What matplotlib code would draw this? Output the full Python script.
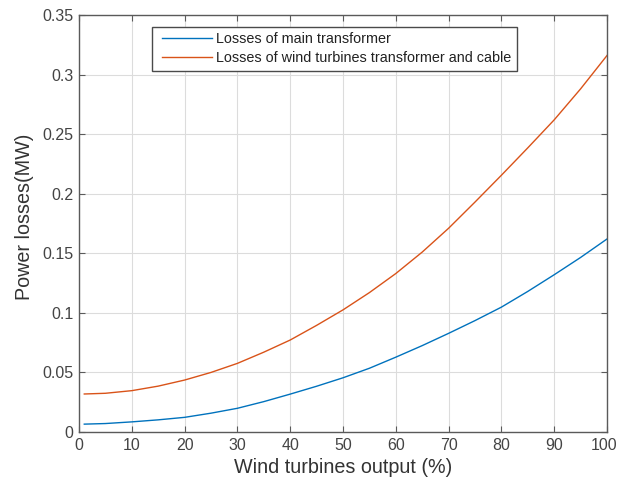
import matplotlib
matplotlib.use("Agg")
import matplotlib.pyplot as plt
import matplotlib.transforms as mt
from matplotlib.lines import Line2D
from matplotlib.legend_handler import HandlerLine2D

plt.rcParams['font.family'] = ['Liberation Sans', 'DejaVu Sans']

output_pct = [1, 5, 10, 15, 20, 25, 30, 35, 40, 45, 50, 55, 60, 65, 70, 75, 80, 85, 90, 95, 100]
main_tr = [0.0066, 0.0071, 0.0085, 0.0102, 0.0123, 0.0158, 0.0199, 0.0255, 0.0318, 0.0384, 0.0455,
           0.0535, 0.0628, 0.0725, 0.0828, 0.0935, 0.1048, 0.1180, 0.1320, 0.1465, 0.1620]
wt_tr_cable = [0.0319, 0.0325, 0.0347, 0.0385, 0.0436, 0.0500, 0.0576, 0.0670, 0.0772, 0.0895, 0.1025,
               0.1170, 0.1330, 0.1510, 0.1710, 0.1930, 0.2155, 0.2385, 0.2620, 0.2880, 0.3160]
labels = ["Losses of main transformer", "Losses of wind turbines transformer and cable"]
xticks = [0, 10, 20, 30, 40, 50, 60, 70, 80, 90, 100]
yticks = [0, 0.05, 0.1, 0.15, 0.2, 0.25, 0.3, 0.35]
yticklabels = ["0", "0.05", "0.1", "0.15", "0.2", "0.25", "0.3", "0.35"]

fig = plt.figure(figsize=(6.18, 4.84), dpi=100)
ax = fig.add_axes([79/618, 52/484, 528/618, 417/484])

ax.plot(output_pct, main_tr, color=(0, 0.447, 0.741), lw=1.0, label=labels[0])
ax.plot(output_pct, wt_tr_cable, color=(0.85, 0.325, 0.098), lw=1.0, label=labels[1])

ax.set_xlim(0, 100)
ax.set_ylim(0, 0.35)
ax.set_xticks(xticks)
ax.set_xticklabels([str(v) for v in xticks])
ax.set_yticks(yticks)
ax.set_yticklabels(yticklabels)

ax.grid(True, color='#dcdcdc', lw=0.8)
ax.set_axisbelow(True)
for s in ax.spines.values():
    s.set_color('#5a5a5a')
    s.set_linewidth(1.0)
ax.tick_params(direction='in', length=4, width=0.8, colors='#5a5a5a',
               top=True, right=True, labelsize=11.5, labelcolor='#444444', pad=4)

# keep the last x tick label inside the figure
last_lab = ax.xaxis.get_major_ticks()[-1].label1
last_lab.set_transform(last_lab.get_transform() + mt.ScaledTranslation(-3/100, 0, fig.dpi_scale_trans))

ax.set_xlabel("Wind turbines output (%)", fontsize=14.2, color='#333333', labelpad=4)
ax.set_ylabel("Power losses(MW)", fontsize=14.2, color='#333333', labelpad=5)
ax.yaxis.set_label_coords(-0.085, 0.515)

leg = ax.legend(loc='upper left', bbox_to_anchor=(0.138, 0.972), fontsize=10.4,
                frameon=True, fancybox=False, framealpha=1, edgecolor='#4a4a4a',
                handlelength=3.75, handletextpad=0.3, labelspacing=0.3,
                borderpad=0.4, borderaxespad=0,
                handler_map={Line2D: HandlerLine2D(xpad=0.3)})
leg.get_frame().set_linewidth(1.0)
for t in leg.get_texts():
    t.set_color('#222222')

fig.savefig("out.png", dpi=100)
